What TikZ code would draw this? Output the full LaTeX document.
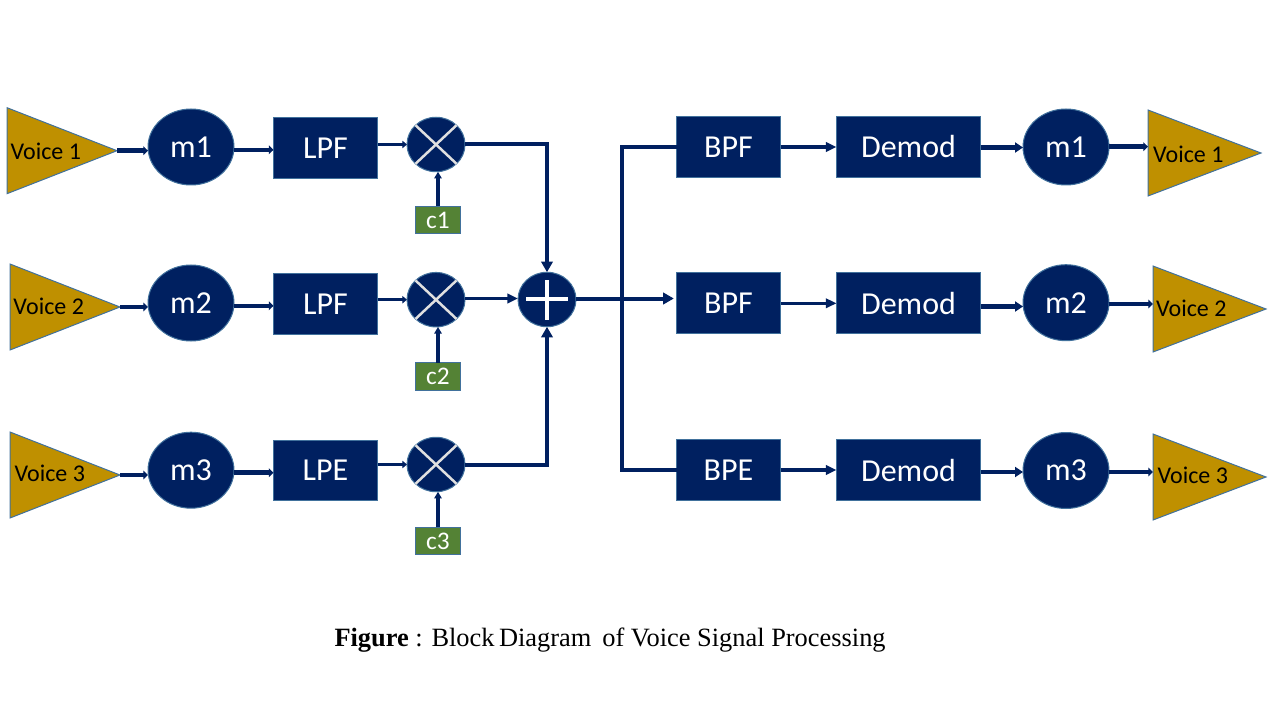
\documentclass[tikz,border=0pt]{standalone}
\usepackage{fontspec}
\setmainfont{Carlito}
\newfontfamily\capfont{Liberation Serif}
\usetikzlibrary{shapes.geometric,arrows.meta}
\def\px{0.75pt}
\definecolor{navy}{HTML}{002060}
\definecolor{gold}{HTML}{BF9000}
\definecolor{leaf}{HTML}{548235}
\definecolor{rim}{HTML}{41719C}
\begin{document}
\begin{tikzpicture}[x=\px,y=-\px]
    \tikzstyle{every node}=[inner sep=0pt,outer sep=0pt]
    \tikzstyle{block}=[rectangle,draw=rim,fill=navy,text=white,line width=0.75pt,font=\fontsize{24}{28}\selectfont]
    \tikzstyle{filter}=[block,minimum width=104*\px,minimum height=60.5*\px]
    \tikzstyle{demod}=[block,minimum width=144*\px,minimum height=60.5*\px]
    \tikzstyle{message}=[block,ellipse,minimum width=86*\px,minimum height=76*\px]
    \tikzstyle{mixer}=[block,ellipse,minimum width=58*\px,minimum height=54.5*\px]
    \tikzstyle{carrier}=[block,fill=leaf,minimum width=45*\px,minimum height=27.5*\px,font=\fontsize{19}{22}\selectfont]
    \tikzstyle{voice}=[isosceles triangle,isosceles triangle stretches,draw=rim,fill=gold,line width=0.75pt,minimum width=86*\px,minimum height=110*\px,anchor=apex,shape border rotate=0]
    \tikzstyle{voiceout}=[voice,minimum height=113*\px]
    \tikzstyle{voicetext}=[text=black,anchor=west,font=\fontsize{18}{22}\selectfont]
    \tikzstyle{thinwire}=[draw=navy,line width=3*\px,-{Triangle[length=3.5pt,width=5.5pt]}]
    \tikzstyle{thickwire}=[draw=navy,line width=4.5*\px,-{Triangle[length=3.5pt,width=6.5pt]}]
    \tikzstyle{heavytip}=[draw=navy,line width=4.5*\px,-{Triangle[length=6pt,width=7.5pt]}]
    \tikzstyle{midtip}=[draw=navy,line width=3.5*\px,-{Triangle[length=8pt,width=7pt]}]
    \tikzstyle{bigtip}=[draw=navy,line width=4*\px,-{Triangle[length=8pt,width=8.5pt]}]
    \tikzstyle{uptip}=[draw=navy,line width=3.5*\px,-{Triangle[length=5pt,width=5.5pt]}]
    \tikzstyle{bus}=[draw=navy,line width=4*\px]
    \tikzstyle{cross}=[draw=black!12,line width=2.5*\px]
    \tikzstyle{plus}=[draw=white,line width=4*\px]

    \useasboundingbox (0,0) rectangle (1280,720);

    % Input side
    \foreach \row/\ax/\ay/\tx/\ty/\my/\fy/\xy/\cy/\flabel in {1/117/150.7/10.5/151.5/147/147.8/144.5/220/LPF,2/120/307/13.5/306.5/303/303.8/299.7/376.3/LPF,3/120/475/14.5/473.5/470.2/470.7/464.5/541/LPE} {
        \node[voice] (VI-\row) at (\ax,\ay) {};
        \node[voicetext] (VIT-\row) at (\tx,\ty) {Voice \row};
        \node[message] (MI-\row) at (191,\my) {m\row};
        \node[filter] (LP-\row) at (325.5,\fy) {\flabel};
        \node[mixer] (X-\row) at (436,\xy) {};
        \node[carrier] (C-\row) at (438,\cy) {c\row};
        \draw[cross] (X-\row.north west) -- (X-\row.south east);
        \draw[cross] (X-\row.north east) -- (X-\row.south west);
        \draw[thickwire] (VI-\row.apex) -- (VI-\row.apex -| MI-\row.west);
        \draw[thickwire] ([yshift=-1.5pt]MI-\row.east |- LP-\row.west) -- ([yshift=-1.5pt]LP-\row.west);
        \draw[thinwire] (X-\row.west -| LP-\row.east) -- (X-\row.west);
        \draw[uptip] (C-\row.north) -- (C-\row.north |- X-\row.south);
    }

    % Summing node
    \node[mixer] (S) at (547,299.5) {};
    \coordinate (Sleft) at (526,298.5);
    \coordinate (Sright) at (568,298.5);
    \coordinate (Stop) at (547,280);
    \coordinate (Sbot) at (547,320);
    \draw[plus] (Sleft) -- (Sright);
    \draw[plus] (Stop) -- (Sbot);

    % Output side
    \foreach \row/\by/\ax/\ay/\tx/\ty/\my/\wy/\dy/\oy/\flabel in {1/147/1261/153/1153/154/147/147/147.5/146.7/BPF,2/303/1266/309/1156/308/302.7/303.3/306.5/304/BPF,3/470/1266/477/1157.5/475.5/470.5/470/472/472/BPE} {
        \node[filter] (BP-\row) at (728.5,\by) {\flabel};
        \node[demod] (D-\row) at (908.5,\by) {Demod};
        \node[message] (MO-\row) at (1066,\my) {m\row};
        \node[voiceout] (VO-\row) at (\ax,\ay) {};
        \node[voicetext] (VOT-\row) at (\tx,\ty) {Voice \row};
        \draw[midtip] (BP-\row.east |- 0,\wy) -- (D-\row.west |- 0,\wy);
        \draw[heavytip] (D-\row.east |- 0,\dy) -- (MO-\row.west |- 0,\dy);
        \draw[thickwire] (MO-\row.east |- 0,\oy) -- (VO-\row.west |- 0,\oy);
    }

    % Mixers into the summing node
    \draw[bigtip] (X-1.east) -| (S.north);
    \draw[midtip] (X-2.east |- Sleft) -- (S.west |- Sleft);
    \draw[bigtip] (X-3.east) -| (S.south);

    % Summing node to the filters
    \coordinate (busend) at (622,472);
    \draw[bigtip,shorten >=2pt] (S.east |- Sright) -- (BP-2.west |- Sright);
    \draw[bus] (BP-1.west) -| (busend);
    \draw[bus] (BP-3.west) -- (BP-3.west -| busend);

    % Caption
    \node[anchor=west,font=\capfont\fontsize{19.8}{24}\selectfont,text=black] (caption) at (334.5,640) {\textbf{Figure} : Block\,Diagram\, of Voice Signal Processing};
\end{tikzpicture}
\end{document}
